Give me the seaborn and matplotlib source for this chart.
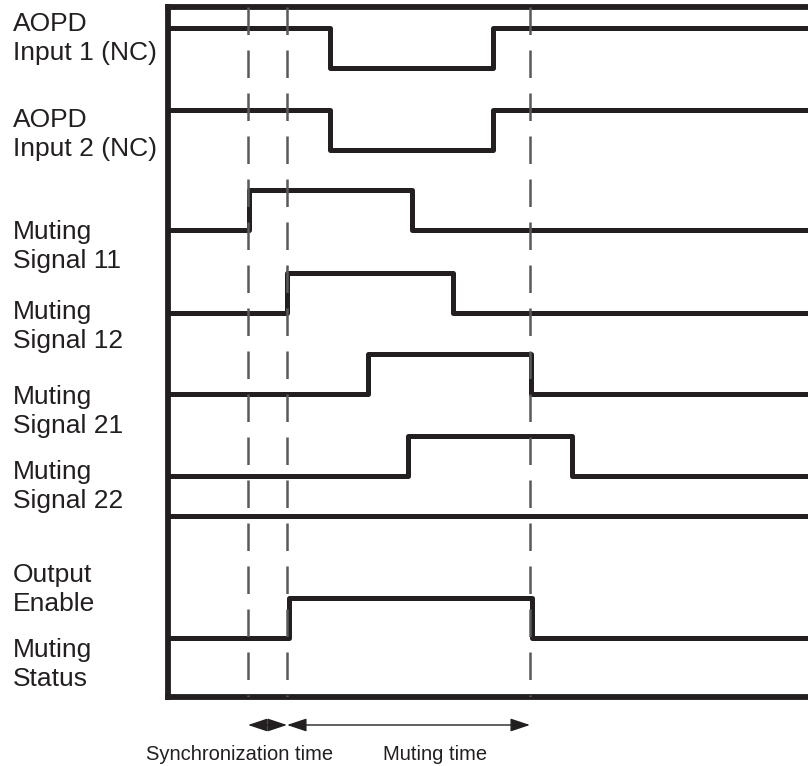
import matplotlib
matplotlib.use("Agg")
import matplotlib.pyplot as plt
import seaborn as sns

# signal labels (top to bottom)
labels = [
    "AOPD\nInput 1 (NC)",
    "AOPD\nInput 2 (NC)",
    "Muting\nSignal 11",
    "Muting\nSignal 12",
    "Muting\nSignal 21",
    "Muting\nSignal 22",
    "Output\nEnable",
    "Muting\nStatus",
]

# transition times and logic levels of each trace (steps-post)
input1_t = [0, 162, 325, 640]
input1_v = [1, 0, 1, 1]
input2_t = [0, 162, 325, 640]
input2_v = [1, 0, 1, 1]
m11_t = [0, 81, 244, 640]
m11_v = [0, 1, 0, 0]
m12_t = [0, 119, 285, 640]
m12_v = [0, 1, 0, 0]
m21_t = [0, 200, 363, 640]
m21_v = [0, 1, 0, 0]
m22_t = [0, 240, 404, 640]
m22_v = [0, 1, 0, 0]
enable_t = [0, 640]
enable_v = [0, 0]
status_t = [0, 121, 364, 640]
status_v = [0, 1, 0, 0]

# reference instants
sync_start = 80
sync_end = 119
mute_end = 362

traces = [
    (input1_t, input1_v), (input2_t, input2_v),
    (m11_t, m11_v), (m12_t, m12_v),
    (m21_t, m21_v), (m22_t, m22_v),
    (enable_t, enable_v), (status_t, status_v),
]

# layout (pixel-like units, y grows downward)
row_low = [68, 150, 230, 313, 394, 476, 516, 638]
amp = 40
label_top = [12, 108, 220, 300, 385, 460, 563, 638]

INK = "#231f20"
DASH = "#58595b"

sns.set_style("white")
plt.rcParams["font.family"] = ["Liberation Sans", "DejaVu Sans"]

W, H = 808, 766
fig = plt.figure(figsize=(W / 100, H / 100), dpi=100)
x0, y_top, y_bot = 168, 7, 697
ax = fig.add_axes([x0 / W, (H - y_bot) / H, (W - x0) / W, (y_bot - y_top) / H])
ax.set_xlim(0, W - x0)
ax.set_ylim(y_bot, y_top)

for (t, v), base in zip(traces, row_low):
    y = [base - amp * s for s in v]
    sns.lineplot(x=t, y=y, ax=ax, drawstyle="steps-post", color=INK,
                 linewidth=3.6, estimator=None, sort=False)

ax.vlines([sync_start, sync_end, mute_end], y_top, y_bot, colors=DASH,
          linewidth=1.8, linestyles=(0, (11, 6.2)), zorder=3)

for lab, top in zip(labels, label_top):
    ax.text(13 - x0, top, lab, ha="left", va="top", fontsize=19,
            linespacing=1.28, color=INK, clip_on=False)

# frame
for side in ["left", "top", "bottom"]:
    ax.spines[side].set_visible(True)
    ax.spines[side].set_linewidth(4.2)
    ax.spines[side].set_color(INK)
ax.spines["right"].set_visible(False)
ax.set_xticks([])
ax.set_yticks([])
ax.set_xlabel("")
ax.set_ylabel("")

# interval arrows
arrow_y = 725
style = "<|-|>,head_length=1.2,head_width=0.4"
for a, b in [(sync_start, sync_end), (sync_end, mute_end)]:
    ax.annotate("", xy=(b, arrow_y), xytext=(a, arrow_y),
                arrowprops=dict(arrowstyle=style, mutation_scale=10,
                                color=INK, lw=1.0, shrinkA=0, shrinkB=0),
                annotation_clip=False)

ax.text(240 - x0, 760, "Synchronization time", ha="center", va="baseline",
        fontsize=14.5, color=INK, clip_on=False)
ax.text(435 - x0, 760, "Muting time", ha="center", va="baseline",
        fontsize=14.5, color=INK, clip_on=False)

fig.savefig("out.png", dpi=100)
